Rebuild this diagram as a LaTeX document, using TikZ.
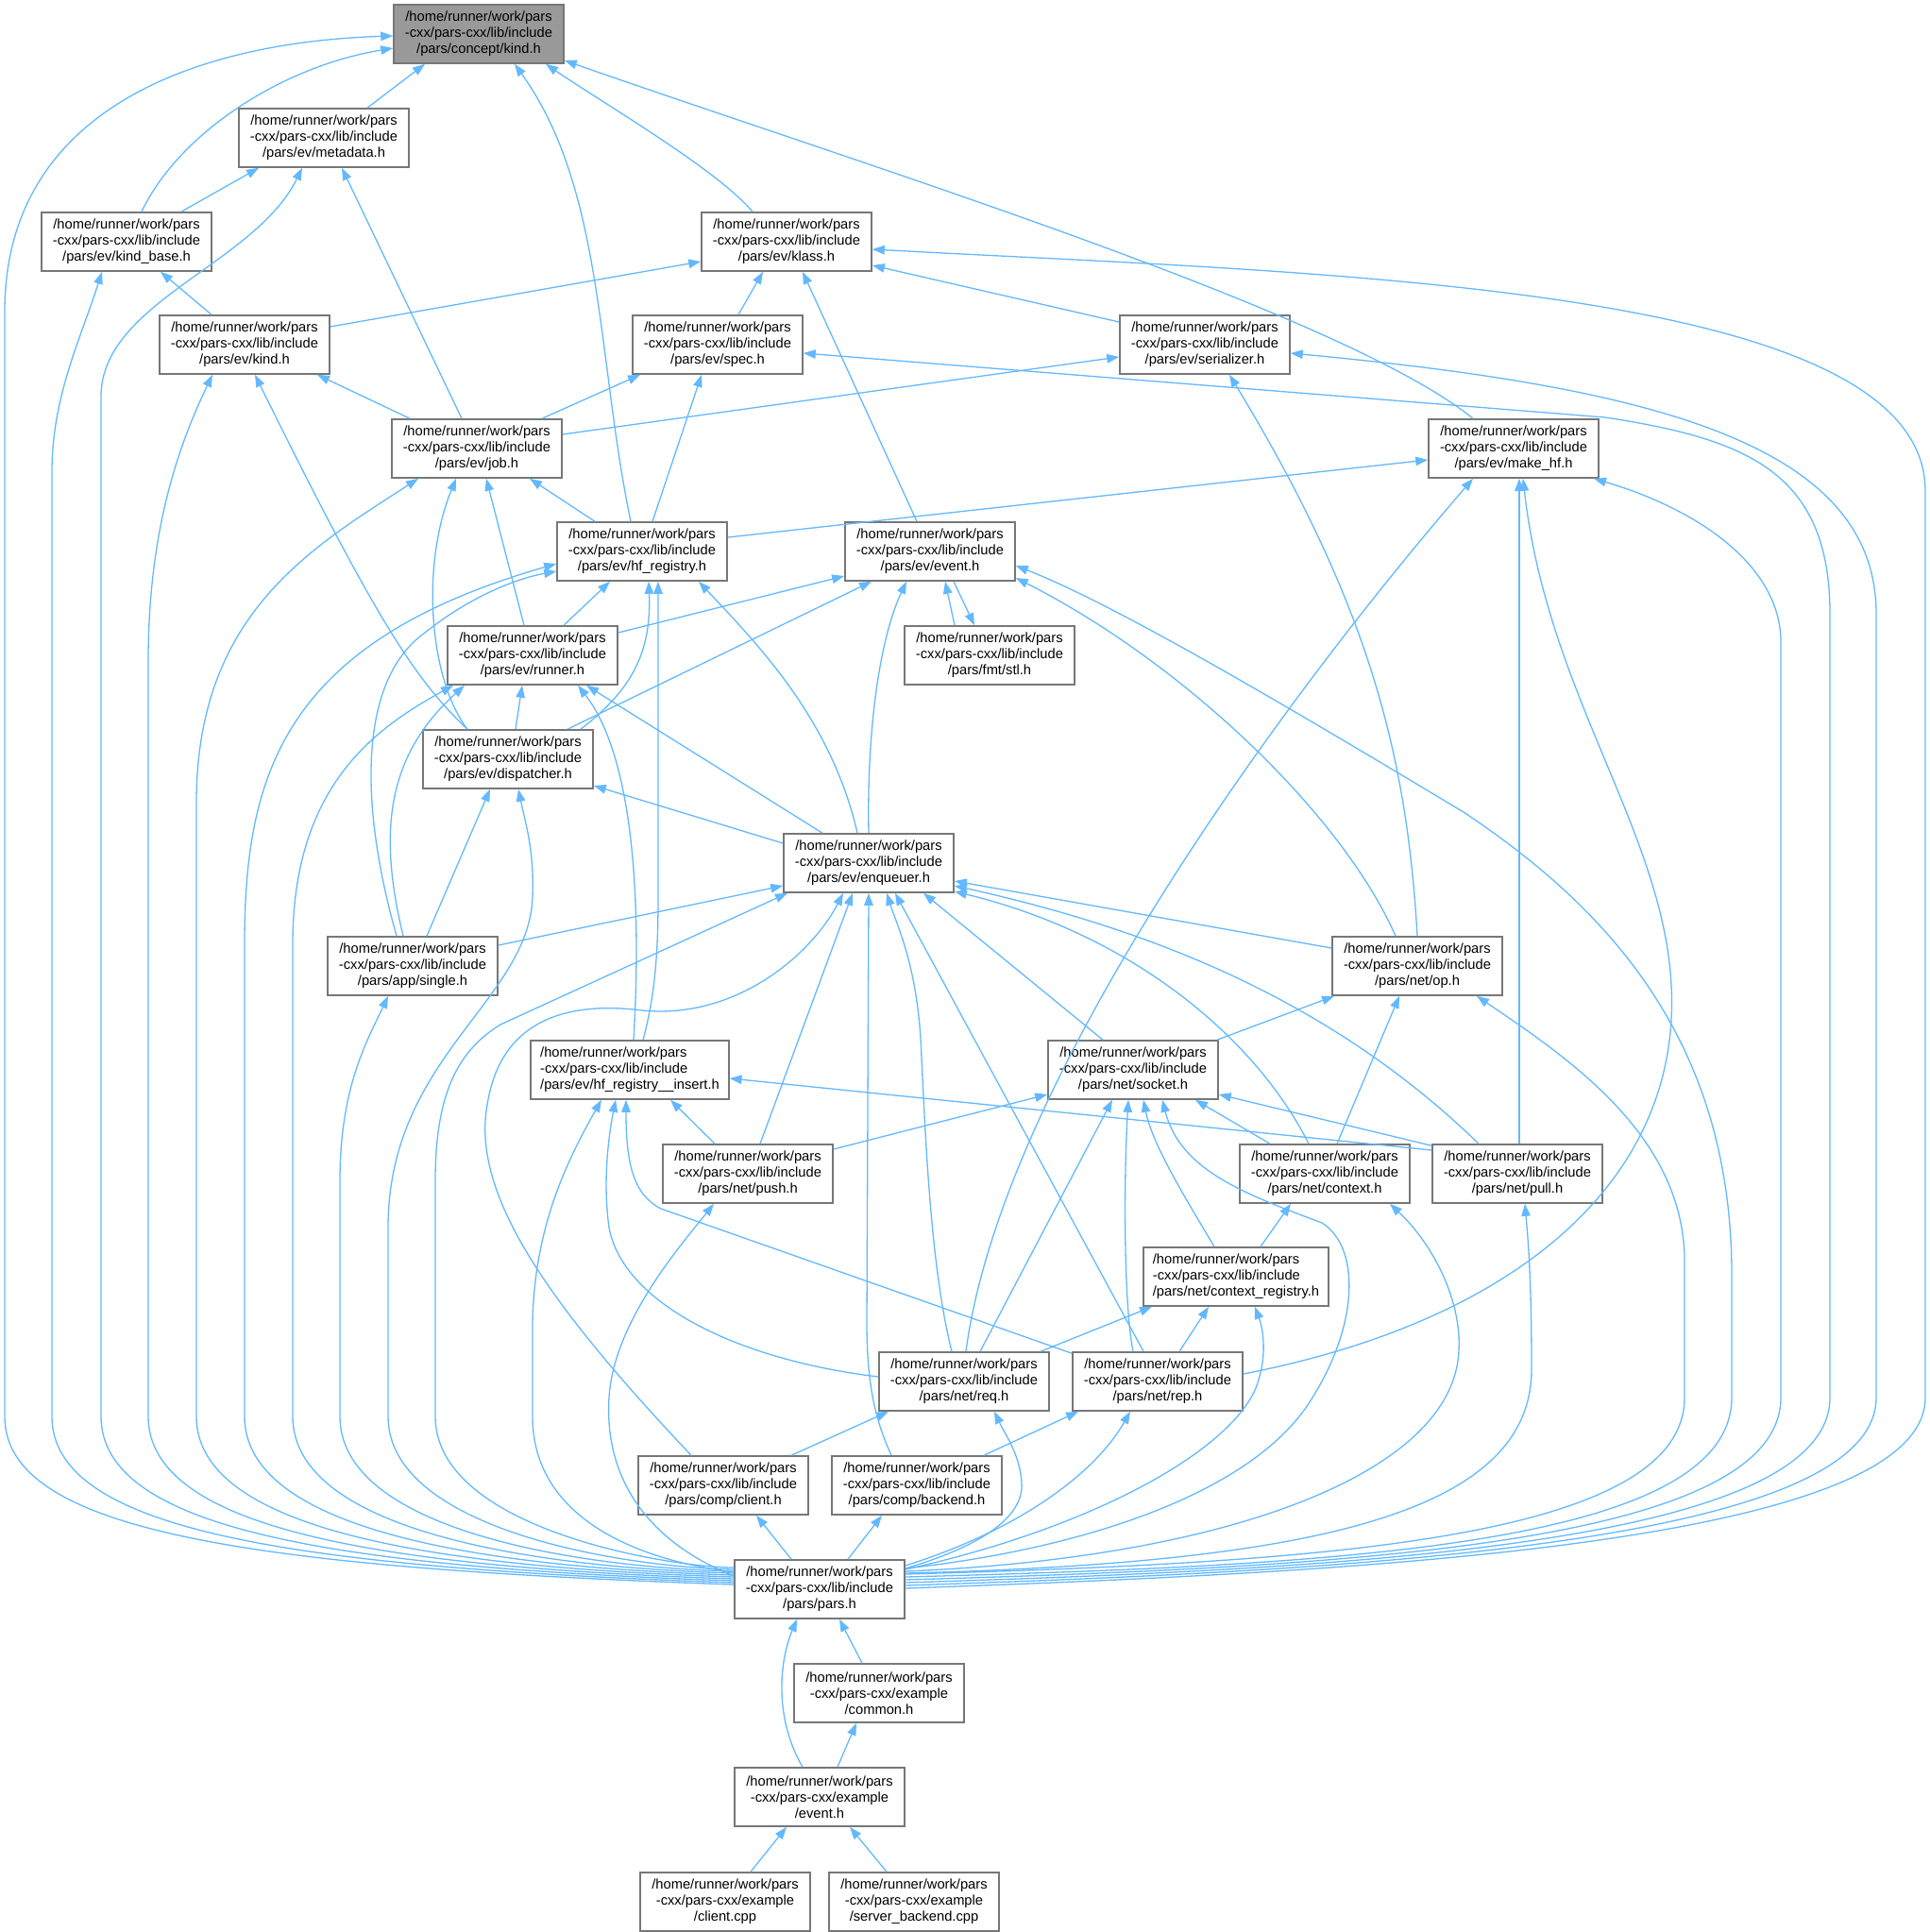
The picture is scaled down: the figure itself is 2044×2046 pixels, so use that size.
\documentclass[tikz,border=0pt]{standalone}
\usepackage{fontspec}
\setmainfont{Liberation Sans}
\usepackage{tikz}
\usetikzlibrary{arrows.meta, calc}
\definecolor{edgeblue}{HTML}{63B8FF}
\definecolor{boxgray}{HTML}{777777}
\definecolor{rootgray}{HTML}{999999}

\begin{document}
\begin{tikzpicture}[x=1pt, y=-1pt,
    file/.style={draw=boxgray, line width=1.6pt, fill=white, align=center,
        minimum width=180pt, minimum height=62pt, inner xsep=10pt, inner ysep=0pt,
        font=\fontsize{14.7}{17}\selectfont},
    fileleft/.style={file, align=left},
    fileroot/.style={file, fill=rootgray},
    incl/.style={draw=edgeblue, line width=1.3pt, -{Triangle[length=13pt,width=9.5pt]}}]
    \useasboundingbox (0,0) rectangle (2044,2046);

    % files
    \node[fileroot] (ckind) at (507,36) {/home/runner/work/pars\\-cxx/pars-cxx/lib/include\\/pars/concept/kind.h};
    \node[file] (metadata) at (343,146) {/home/runner/work/pars\\-cxx/pars-cxx/lib/include\\/pars/ev/metadata.h};
    \node[file] (kindbase) at (134,256) {/home/runner/work/pars\\-cxx/pars-cxx/lib/include\\/pars/ev/kind\_base.h};
    \node[file] (klass) at (833,256) {/home/runner/work/pars\\-cxx/pars-cxx/lib/include\\/pars/ev/klass.h};
    \node[file] (evkind) at (259,365) {/home/runner/work/pars\\-cxx/pars-cxx/lib/include\\/pars/ev/kind.h};
    \node[file] (spec) at (760,365) {/home/runner/work/pars\\-cxx/pars-cxx/lib/include\\/pars/ev/spec.h};
    \node[file] (serializer) at (1276,365) {/home/runner/work/pars\\-cxx/pars-cxx/lib/include\\/pars/ev/serializer.h};
    \node[file] (job) at (505,475) {/home/runner/work/pars\\-cxx/pars-cxx/lib/include\\/pars/ev/job.h};
    \node[file] (makehf) at (1603,475) {/home/runner/work/pars\\-cxx/pars-cxx/lib/include\\/pars/ev/make\_hf.h};
    \node[file] (hfreg) at (680,584) {/home/runner/work/pars\\-cxx/pars-cxx/lib/include\\/pars/ev/hf\_registry.h};
    \node[file] (event) at (985,584) {/home/runner/work/pars\\-cxx/pars-cxx/lib/include\\/pars/ev/event.h};
    \node[file] (runner) at (564,694) {/home/runner/work/pars\\-cxx/pars-cxx/lib/include\\/pars/ev/runner.h};
    \node[file] (stl) at (1048,694) {/home/runner/work/pars\\-cxx/pars-cxx/lib/include\\/pars/fmt/stl.h};
    \node[file] (dispatcher) at (538,804) {/home/runner/work/pars\\-cxx/pars-cxx/lib/include\\/pars/ev/dispatcher.h};
    \node[file] (enqueuer) at (920,914) {/home/runner/work/pars\\-cxx/pars-cxx/lib/include\\/pars/ev/enqueuer.h};
    \node[file] (single) at (437,1023) {/home/runner/work/pars\\-cxx/pars-cxx/lib/include\\/pars/app/single.h};
    \node[file] (op) at (1501,1023) {/home/runner/work/pars\\-cxx/pars-cxx/lib/include\\/pars/net/op.h};
    \node[fileleft] (hfins) at (667,1133) {/home/runner/work/pars\\-cxx/pars-cxx/lib/include\\/pars/ev/hf\_registry\_\_insert.h};
    \node[file] (socket) at (1200,1133) {/home/runner/work/pars\\-cxx/pars-cxx/lib/include\\/pars/net/socket.h};
    \node[file] (push) at (792,1243) {/home/runner/work/pars\\-cxx/pars-cxx/lib/include\\/pars/net/push.h};
    \node[file] (context) at (1403,1243) {/home/runner/work/pars\\-cxx/pars-cxx/lib/include\\/pars/net/context.h};
    \node[file] (pull) at (1607,1243) {/home/runner/work/pars\\-cxx/pars-cxx/lib/include\\/pars/net/pull.h};
    \node[fileleft] (ctxreg) at (1309,1352) {/home/runner/work/pars\\-cxx/pars-cxx/lib/include\\/pars/net/context\_registry.h};
    \node[file] (req) at (1021,1463) {/home/runner/work/pars\\-cxx/pars-cxx/lib/include\\/pars/net/req.h};
    \node[file] (rep) at (1226,1463) {/home/runner/work/pars\\-cxx/pars-cxx/lib/include\\/pars/net/rep.h};
    \node[file] (client) at (766,1573) {/home/runner/work/pars\\-cxx/pars-cxx/lib/include\\/pars/comp/client.h};
    \node[file] (backend) at (971,1573) {/home/runner/work/pars\\-cxx/pars-cxx/lib/include\\/pars/comp/backend.h};
    \node[file] (pars) at (868,1683) {/home/runner/work/pars\\-cxx/pars-cxx/lib/include\\/pars/pars.h};
    \node[file] (common) at (931,1793) {/home/runner/work/pars\\-cxx/pars-cxx/example\\/common.h};
    \node[file] (exevent) at (868,1903) {/home/runner/work/pars\\-cxx/pars-cxx/example\\/event.h};
    \node[file] (clientcpp) at (768,2014) {/home/runner/work/pars\\-cxx/pars-cxx/example\\/client.cpp};
    \node[file] (servercpp) at (968,2014) {/home/runner/work/pars\\-cxx/pars-cxx/example\\/server\_backend.cpp};

    % concept/kind.h
    \draw[incl] ($(metadata.north)+(46,0)$) -- ($(ckind.south)+(-57,0)$);
    \draw[incl] ($(kindbase.north)+(16,0)$) .. controls (190,140) and (300,70) .. ($(ckind.west)+(0,15)$);
    \draw[incl] ($(pars.west)+(0,-5)$) .. controls (255,1660) and (5,1620) .. (5,1500) -- (5,330) .. controls (5,120) and (200,45) .. ($(ckind.west)+(0,2)$);
    \draw[incl] ($(klass.north)+(-36,0)$) .. controls (760,180) and (640,110) .. ($(ckind.south)+(71,0)$);
    \draw[incl] ($(hfreg.north)+(-12,0)$) .. controls (632,380) and (640,200) .. ($(ckind.south)+(38,0)$);
    \draw[incl] ($(makehf.north)+(-43,0)$) .. controls (1420,330) and (900,170) .. ($(ckind.east)+(0,28)$);

    % ev/metadata.h, ev/kind_base.h
    \draw[incl] ($(kindbase.north)+(58,0)$) -- ($(metadata.south)+(-69,0)$);
    \draw[incl] ($(pars.west)+(0,-9)$) .. controls (357,1660) and (107,1620) .. (107,1500) -- (107,420) .. controls (107,320) and (270,280) .. ($(metadata.south)+(-23,0)$);
    \draw[incl] ($(job.north)+(-16,0)$) -- ($(metadata.south)+(19,0)$);
    \draw[incl] ($(evkind.north)+(-35,0)$) -- ($(kindbase.south)+(36,0)$);
    \draw[incl] ($(pars.west)+(0,-7)$) .. controls (305,1660) and (55,1620) .. (55,1500) -- (55,500) .. controls (55,420) and (85,360) .. ($(kindbase.south)+(-26,0)$);

    % ev/klass.h
    \draw[incl] ($(evkind.east)+(0,-19)$) -- ($(klass.west)+(0,21)$);
    \draw[incl] ($(spec.north)+(22,0)$) -- ($(klass.south)+(-25,0)$);
    \draw[incl] ($(event.north)+(-14,0)$) -- ($(klass.south)+(17,0)$);
    \draw[incl] ($(serializer.west)+(0,-24)$) -- ($(klass.east)+(0,25)$);
    \draw[incl] ($(pars.east)+(0,-1)$) .. controls (1400,1666) and (2039,1640) .. (2039,1480) -- (2039,520) .. controls (2039,300) and (1400,290) .. ($(klass.east)+(0,8)$);

    % ev/kind.h, ev/spec.h, ev/serializer.h
    \draw[incl] ($(job.north)+(-71,0)$) -- ($(evkind.south)+(77,0)$);
    \draw[incl] ($(pars.west)+(0,-11)$) .. controls (407,1660) and (157,1620) .. (157,1500) -- (157,700) .. controls (157,560) and (190,470) .. ($(evkind.south)+(-34,0)$);
    \draw[incl] ($(dispatcher.north)+(-43,0)$) .. controls (440,720) and (400,660) .. ($(evkind.south)+(11,0)$);
    \draw[incl] ($(job.north)+(69,0)$) -- ($(spec.south)+(-82,0)$);
    \draw[incl] ($(hfreg.north)+(11,0)$) -- ($(spec.south)+(-17,0)$);
    \draw[incl] ($(pars.east)+(0,-7)$) .. controls (1400,1662) and (1938,1640) .. (1938,1480) -- (1938,650) .. controls (1938,500) and (1850,465) .. (1700,442) -- ($(spec.east)+(0,9)$);
    \draw[incl] ($(job.east)+(0,-15)$) -- ($(serializer.west)+(0,13)$);
    \draw[incl] (op.north) .. controls (1490,800) and (1450,640) .. ($(serializer.south)+(26,0)$);
    \draw[incl] ($(pars.east)+(0,-4)$) .. controls (1400,1664) and (1987,1640) .. (1987,1480) -- (1987,650) .. controls (1987,470) and (1750,410) .. ($(serializer.east)+(0,9)$);

    % ev/job.h, ev/make_hf.h
    \draw[incl] ($(hfreg.north)+(-50,0)$) -- ($(job.south)+(56,0)$);
    \draw[incl] ($(runner.north)+(-9,0)$) -- ($(job.south)+(10,0)$);
    \draw[incl] ($(dispatcher.north)+(-43,0)$) .. controls (455,720) and (445,600) .. ($(job.south)+(-22,0)$);
    \draw[incl] ($(pars.west)+(0,-13)$) .. controls (458,1660) and (208,1620) .. (208,1500) -- (208,850) .. controls (208,650) and (330,580) .. ($(job.south)+(-62,0)$);
    \draw[incl] ($(hfreg.east)+(0,-15)$) -- ($(makehf.west)+(0,12)$);
    \draw[incl] ($(req.north)+(2,0)$) .. controls (1060,1150) and (1350,750) .. ($(makehf.south)+(-43,0)$);
    \draw[incl] ($(pull.north)+(2,0)$) -- ($(makehf.south)+(6,0)$);
    \draw[incl] ($(rep.east)+(0,-8)$) .. controls (1600,1400) and (1760,1260) .. (1770,1080) .. controls (1780,900) and (1640,750) .. ($(makehf.south)+(10,0)$);
    \draw[incl] ($(pars.east)+(0,-10)$) .. controls (1400,1660) and (1886,1640) .. (1886,1480) -- (1886,680) .. controls (1886,600) and (1800,540) .. ($(makehf.south)+(85,0)$);

    % ev/hf_registry.h
    \draw[incl] ($(runner.north)+(33,0)$) -- ($(hfreg.south)+(-34,0)$);
    \draw[incl] ($(dispatcher.north)+(77,0)$) .. controls (670,730) and (690,690) .. ($(hfreg.south)+(7,0)$);
    \draw[incl] ($(hfins.north)+(14,0)$) .. controls (695,1050) and (697,1000) .. (697,950) -- ($(hfreg.south)+(17,0)$);
    \draw[incl] ($(enqueuer.north)+(-12,0)$) .. controls (880,760) and (800,680) .. ($(hfreg.south)+(60,0)$);
    \draw[incl] ($(single.north)+(-17,0)$) .. controls (380,850) and (380,720) .. (450,670) .. controls (500,630) and (550,612) .. ($(hfreg.west)+(0,21)$);
    \draw[incl] ($(pars.west)+(0,-15)$) .. controls (509,1660) and (259,1620) .. (259,1500) -- (259,1000) .. controls (259,820) and (300,680) .. ($(hfreg.west)+(0,13)$);

    % ev/runner.h
    \draw[incl] ($(dispatcher.north)+(8,0)$) -- ($(runner.south)+(-11,0)$);
    \draw[incl] ($(hfins.north)+(4,0)$) .. controls (680,950) and (670,800) .. ($(runner.south)+(48,0)$);
    \draw[incl] ($(enqueuer.north)+(-49,0)$) -- ($(runner.south)+(57,0)$);
    \draw[incl] ($(single.north)+(-10,0)$) .. controls (400,880) and (410,800) .. ($(runner.south)+(-72,0)$);
    \draw[incl] ($(pars.west)+(0,-17)$) .. controls (560,1660) and (310,1620) .. (310,1500) -- (310,1000) .. controls (310,830) and (400,770) .. ($(runner.south)+(-84,0)$);

    % ev/dispatcher.h
    \draw[incl] ($(enqueuer.west)+(0,-21)$) -- ($(dispatcher.east)+(0,28)$);
    \draw[incl] ($(single.north)+(15,0)$) -- ($(dispatcher.south)+(-19,0)$);
    \draw[incl] ($(pars.west)+(0,-21)$) .. controls (661,1660) and (411,1620) .. (411,1500) -- (411,1300) .. controls (411,1120) and (560,1060) .. (564,950) .. controls (566,900) and (556,870) .. ($(dispatcher.south)+(11,0)$);

    % ev/event.h, fmt/stl.h
    \draw[incl] ($(runner.east)+(0,-24)$) -- ($(event.west)+(0,26)$);
    \draw[incl] ($(dispatcher.north)+(63,0)$) -- ($(event.south)+(-62,0)$);
    \draw[incl] (enqueuer.north) .. controls (918,780) and (930,680) .. ($(event.south)+(-25,0)$);
    \draw[incl] ($(stl.north)+(-37,0)$) -- ($(event.south)+(16,0)$);
    \draw[incl] ($(event.south)+(25,0)$) -- ($(stl.north)+(-16,0)$);
    \draw[incl] ($(op.north)+(-23,0)$) .. controls (1420,860) and (1250,700) .. ($(event.east)+(0,28)$);
    \draw[incl] ($(pars.east)+(0,-13)$) .. controls (1400,1658) and (1834,1640) .. (1834,1480) -- (1834,1350) .. controls (1834,1100) and (1700,960) .. (1550,860) .. controls (1350,740) and (1180,640) .. ($(event.east)+(0,15)$);

    % ev/enqueuer.h
    \draw[incl] ($(single.east)+(0,-22)$) -- ($(enqueuer.west)+(0,24)$);
    \draw[incl] ($(op.west)+(0,-19)$) -- ($(enqueuer.east)+(0,19)$);
    \draw[incl] ($(pull.north)+(-41,0)$) .. controls (1400,1050) and (1200,980) .. ($(enqueuer.east)+(0,24)$);
    \draw[incl] ($(context.north)+(-17,0)$) .. controls (1330,1100) and (1200,990) .. ($(enqueuer.east)+(0,30)$);
    \draw[incl] ($(socket.north)+(-32,0)$) -- ($(enqueuer.south)+(58,0)$);
    \draw[incl] ($(push.north)+(13,0)$) -- ($(enqueuer.south)+(-17,0)$);
    \draw[incl] ($(pars.west)+(0,-23)$) .. controls (711,1660) and (461,1620) .. (461,1500) -- (461,1250) .. controls (461,1150) and (490,1110) .. (530,1085) -- ($(enqueuer.south)+(-86,0)$);
    \draw[incl] ($(client.north)+(-34,0)$) .. controls (570,1370) and (500,1260) .. (516,1170) .. controls (530,1080) and (600,1060) .. (680,1070) .. controls (780,1080) and (860,1010) .. ($(enqueuer.south)+(-27,0)$);
    \draw[incl] ($(backend.north)+(-27,0)$) .. controls (925,1500) and (918,1460) .. (918,1400) -- (enqueuer.south);
    \draw[incl] ($(req.north)+(-13,0)$) .. controls (985,1340) and (980,1200) .. (975,1100) .. controls (970,1020) and (950,980) .. ($(enqueuer.south)+(19,0)$);
    \draw[incl] ($(rep.north)+(-15,0)$) -- ($(enqueuer.south)+(28,0)$);

    % net/op.h
    \draw[incl] ($(socket.north)+(89,0)$) -- ($(op.south)+(-88,0)$);
    \draw[incl] ($(context.north)+(13,0)$) -- ($(op.south)+(-19,0)$);
    \draw[incl] ($(pars.east)+(0,-16)$) .. controls (1400,1655) and (1784,1630) .. (1784,1480) -- (1784,1330) .. controls (1780,1200) and (1660,1120) .. ($(op.south)+(63,0)$);

    % ev/hf_registry__insert.h
    \draw[incl] ($(push.north)+(-35,0)$) -- ($(hfins.south)+(43,0)$);
    \draw[incl] ($(pull.west)+(0,-25)$) -- ($(hfins.east)+(0,9)$);
    \draw[incl] ($(pars.west)+(0,-18)$) .. controls (660,1650) and (564,1600) .. (564,1500) -- (564,1400) .. controls (566,1300) and (600,1230) .. ($(hfins.south)+(-30,0)$);
    \draw[incl] ($(req.west)+(0,-5)$) .. controls (780,1440) and (660,1380) .. (645,1300) .. controls (638,1250) and (645,1200) .. ($(hfins.south)+(-15,0)$);
    \draw[incl] ($(rep.north west)+(0,2)$) -- (700,1280) .. controls (670,1265) and (663,1230) .. ($(hfins.south)+(-4,0)$);

    % net/socket.h
    \draw[incl] ($(push.east)+(0,-26)$) -- ($(socket.west)+(0,26)$);
    \draw[incl] ($(context.north)+(-58,0)$) -- ($(socket.south)+(66,0)$);
    \draw[incl] ($(pull.north west)+(0,2)$) -- ($(socket.east)+(0,26)$);
    \draw[incl] ($(req.north)+(17,0)$) -- ($(socket.south)+(-22,0)$);
    \draw[incl] ($(rep.north)+(-26,0)$) .. controls (1190,1380) and (1190,1250) .. ($(socket.south)+(-5,0)$);
    \draw[incl] ($(ctxreg.north)+(-23,0)$) .. controls (1250,1260) and (1220,1210) .. ($(socket.south)+(11,0)$);
    \draw[incl] ($(pars.east)+(0,-22)$) .. controls (1150,1640) and (1330,1580) .. (1390,1480) .. controls (1440,1400) and (1440,1320) .. (1400,1295) .. controls (1320,1265) and (1250,1240) .. ($(socket.south)+(31,0)$);

    % net/push.h, net/context.h, net/pull.h
    \draw[incl] ($(pars.west)+(0,-14)$) .. controls (680,1630) and (640,1560) .. (645,1480) .. controls (650,1400) and (720,1320) .. ($(push.south)+(-36,0)$);
    \draw[incl] ($(ctxreg.north)+(26,0)$) -- ($(context.south)+(-36,0)$);
    \draw[incl] ($(pars.east)+(0,-19)$) .. controls (1300,1650) and (1540,1560) .. (1545,1430) .. controls (1548,1380) and (1520,1320) .. ($(context.south)+(69,0)$);
    \draw[incl] ($(pars.east)+(0,-17)$) .. controls (1400,1655) and (1622,1600) .. (1622,1450) .. controls (1622,1350) and (1618,1310) .. ($(pull.south)+(8,0)$);

    % net/context_registry.h
    \draw[incl] ($(req.north)+(81,0)$) -- ($(ctxreg.south)+(-89,0)$);
    \draw[incl] ($(rep.north)+(23,0)$) -- ($(ctxreg.south)+(-29,0)$);
    \draw[incl] ($(pars.east)+(0,-21)$) .. controls (1150,1620) and (1300,1540) .. (1330,1470) .. controls (1345,1430) and (1335,1400) .. ($(ctxreg.south)+(20,0)$);

    % net/req.h, net/rep.h
    \draw[incl] ($(client.north)+(72,0)$) -- ($(req.south)+(-80,0)$);
    \draw[incl] ($(pars.east)+(0,-22)$) .. controls (1030,1640) and (1085,1610) .. (1082,1570) .. controls (1080,1540) and (1065,1520) .. ($(req.south)+(32,0)$);
    \draw[incl] ($(backend.north)+(71,0)$) -- ($(rep.south)+(-84,0)$);
    \draw[incl] ($(pars.east)+(0,-25)$) .. controls (1080,1620) and (1160,1560) .. ($(rep.south)+(-29,0)$);

    % app/single.h, comp/*
    \draw[incl] ($(pars.west)+(0,-19)$) .. controls (610,1660) and (360,1620) .. (360,1500) -- (360,1250) .. controls (360,1150) and (390,1100) .. ($(single.south)+(-26,0)$);
    \draw[incl] ($(pars.north)+(-30,0)$) -- ($(client.south)+(35,0)$);
    \draw[incl] ($(pars.north)+(30,0)$) -- ($(backend.south)+(-37,0)$);

    % pars.h and examples
    \draw[incl] ($(common.north)+(-18,0)$) -- ($(pars.south)+(21,0)$);
    \draw[incl] ($(exevent.north)+(-18,0)$) .. controls (820,1820) and (825,1760) .. ($(pars.south)+(-24,0)$);
    \draw[incl] ($(exevent.north)+(19,0)$) -- ($(common.south)+(-24,0)$);
    \draw[incl] ($(clientcpp.north)+(27,0)$) -- ($(exevent.south)+(-35,0)$);
    \draw[incl] ($(servercpp.north)+(-29,0)$) -- ($(exevent.south)+(32,0)$);
\end{tikzpicture}
\end{document}
